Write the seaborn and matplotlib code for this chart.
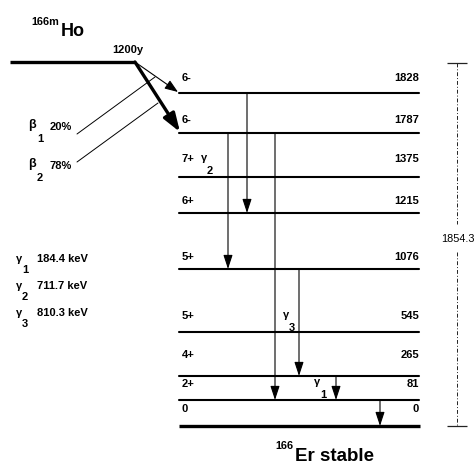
import matplotlib
matplotlib.use("Agg")
import matplotlib.pyplot as plt
import numpy as np
import pandas as pd
import seaborn as sns

# ---- data ----
spins = ['6-', '6-', '7+', '6+', '5+', '5+', '4+', '2+', '0']
energies = ['1828', '1787', '1375', '1215', '1076', '545', '265', '81', '0']
gamma_names = ['1', '2', '3']
gamma_energies = ['184.4 keV', '711.7 keV', '810.3 keV']
beta_names = ['1', '2']
beta_branches = ['20%', '78%']
parent_mass, parent = '166m', 'Ho'
daughter_mass, daughter = '166', 'Er stable'
half_life = '1200y'
q_value = '1854.3'

# ---- schematic layout (pixel coordinates) ----
level_y = [93, 133, 177, 213, 269, 332, 376, 400, 426]
label_base = [81, 123, 162, 204, 260, 319, 358, 387, 412]
trans_from = [0, 1, 1, 4, 6, 7]
trans_to = [3, 4, 7, 6, 7, 8]
trans_x = [247, 228, 275, 299, 336, 380]

sns.set_theme(style="white")
plt.rcParams['font.family'] = ['Liberation Sans', 'DejaVu Sans']
plt.rcParams['text.color'] = 'black'

W, H = 476, 465
fig = plt.figure(figsize=(W / 100, H / 100), dpi=100)
ax = fig.add_axes([0, 0, 1, 1])

x0, x1 = 179, 419
df = pd.DataFrame({
    'x': np.repeat([[x0, x1]], len(level_y[:-1]), axis=0).ravel(),
    'y': np.repeat(level_y[:-1], 2),
    'level': np.repeat(np.arange(len(level_y) - 1), 2),
})
sns.lineplot(data=df, x='x', y='y', units='level', estimator=None,
             color='black', lw=1.5, ax=ax, legend=False, sort=False)
ax.hlines(level_y[-1], x0, x1 + 1, color='black', lw=2.4)

ax.set_xlim(0, W)
ax.set_ylim(H, 0)
ax.axis('off')

fs = 8
tk = dict(color='black', fontsize=fs, fontweight='bold', va='baseline')
for s, e, b in zip(spins, energies, label_base):
    ax.text(182, b, s, ha='left', **tk)
    ax.text(x1, b, e, ha='right', **tk)

# parent level
ax.hlines(62, 10, 135, color='black', lw=2.4)
ax.text(31, 25, parent_mass, ha='left', va='baseline', fontsize=7.8,
        fontweight='bold')
ax.text(61, 36, parent, ha='left', va='baseline', fontsize=13,
        fontweight='bold')
ax.text(112, 53, half_life, ha='left', **tk)

# beta arrows
ax.annotate('', xy=(178, 92), xytext=(135, 62),
            arrowprops=dict(arrowstyle='-|>,head_length=0.8,head_width=0.3',
                            color='black', lw=0.8, shrinkA=0, shrinkB=0,
                            mutation_scale=10))
ax.annotate('', xy=(180, 132), xytext=(135, 62),
            arrowprops=dict(arrowstyle='-|>,head_length=1.1,head_width=0.38',
                            color='black', lw=2.4, shrinkA=0, shrinkB=0,
                            mutation_scale=10))
# leader lines
ax.plot([77, 155], [134, 77], color='black', lw=0.7)
ax.plot([77, 158], [162, 103], color='black', lw=0.7)

beta_base = [128, 167]
for n, p, b in zip(beta_names, beta_branches, beta_base):
    ax.text(28, b, 'β', ha='left', color='black', fontsize=9,
            fontweight='bold', va='baseline')
    ax.text(37, b + 14, n, ha='left', **tk)
    ax.text(50, b + 2, p, ha='left', **tk)

# gamma transitions
for f, t, x in zip(trans_from, trans_to, trans_x):
    ax.annotate('', xy=(x, level_y[t]), xytext=(x, level_y[f]),
                arrowprops=dict(arrowstyle='-|>,head_length=0.85,head_width=0.28',
                                color='black', lw=0.8, shrinkA=0, shrinkB=0,
                                mutation_scale=10))

# gamma labels at transitions
gam_pos = [(314, 385), (201, 161), (283, 318)]
for n, (gx, gy) in zip(gamma_names, gam_pos):
    ax.text(gx, gy, 'γ', ha='left', **tk)
    ax.text(gx + 6, gy + 13, n, ha='left', **tk)

# gamma legend
leg_base = [262, 289, 316]
for n, e, b in zip(gamma_names, gamma_energies, leg_base):
    ax.text(16, b, 'γ', ha='left', **tk)
    ax.text(22, b + 11, n, ha='left', **tk)
    ax.text(37, b, e, ha='left', **tk)

# daughter label
ax.text(275, 449, daughter_mass, ha='left', va='baseline', fontsize=7.8,
        fontweight='bold')
ax.text(295, 461, daughter, ha='left', va='baseline', fontsize=13.5,
        fontweight='bold')

# Q-value bar
qx = 457
ls = (0, (4, 2, 1, 2))
ax.plot([qx, qx], [63, 224], color='#222222', lw=0.7, linestyle=ls)
ax.plot([qx, qx], [252, 426], color='#222222', lw=0.7, linestyle=ls)
ax.hlines([63, 426], qx - 10, qx + 10, color='#222222', lw=0.9)
ax.text(441, 242, q_value, ha='left', va='baseline', fontsize=7.8)

fig.savefig('out.png', dpi=100)
